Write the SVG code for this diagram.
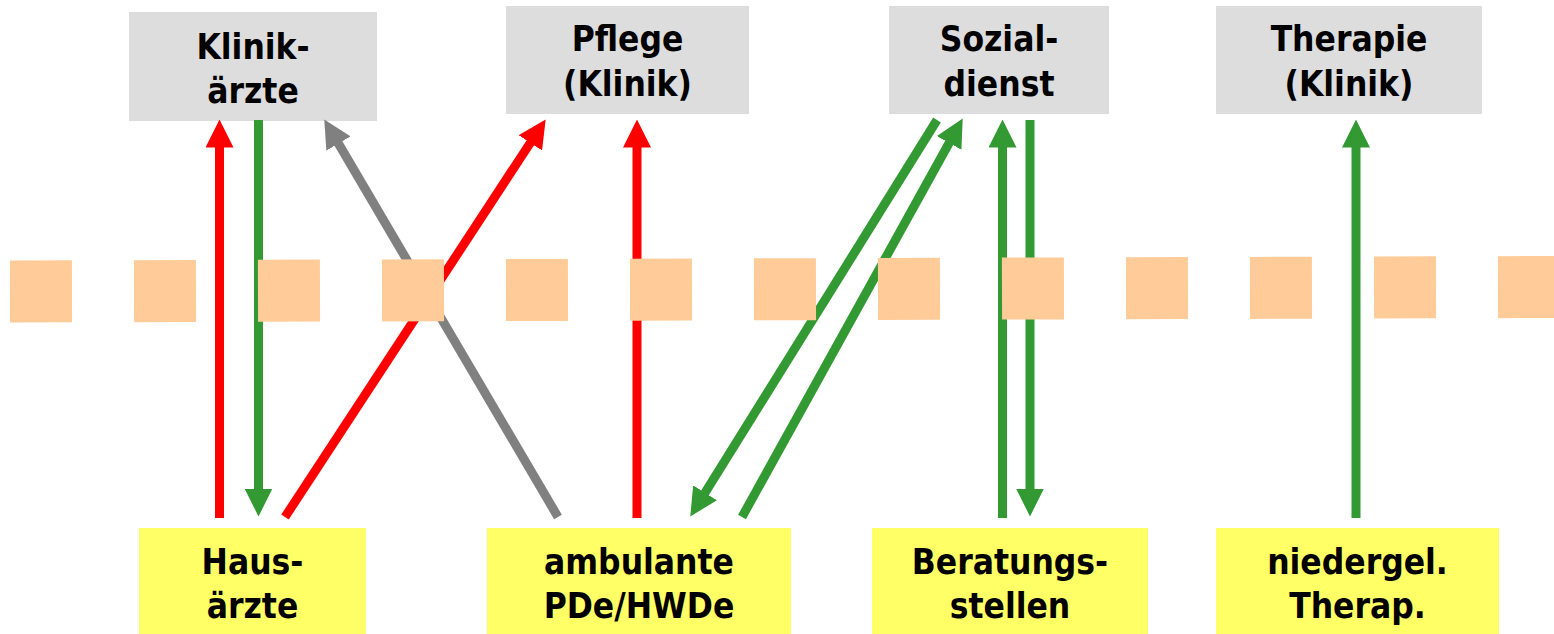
<svg xmlns="http://www.w3.org/2000/svg" width="1554" height="634" viewBox="0 0 1554 634">
<style>
.top{fill:#DDDDDD}
.bot{fill:#FFFF66}
.t{font-family:"DejaVu Sans Condensed","DejaVu Sans",sans-serif;font-stretch:condensed;font-weight:bold;font-size:35px;fill:#000;text-anchor:middle}
.ln{fill:none;stroke-width:9;stroke-linecap:butt}
.red{stroke:#FF0000}
.green{stroke:#339933}
.gray{stroke:#808080}
.band{fill:none;stroke:#FFCC99;stroke-width:62;stroke-dasharray:62 62}
</style>
<defs>
<marker id="aR" markerUnits="userSpaceOnUse" markerWidth="28" markerHeight="28" refX="0.5" refY="14" orient="auto"><path d="M0,0 L28,14 L0,28 z" fill="#FF0000"/></marker>
<marker id="aG" markerUnits="userSpaceOnUse" markerWidth="28" markerHeight="28" refX="0.5" refY="14" orient="auto"><path d="M0,0 L28,14 L0,28 z" fill="#339933"/></marker>
<marker id="aY" markerUnits="userSpaceOnUse" markerWidth="28" markerHeight="28" refX="0.5" refY="14" orient="auto"><path d="M0,0 L28,14 L0,28 z" fill="#808080"/></marker>
</defs>
<rect width="1554" height="634" fill="#FFFFFF"/>
<g id="klinikaerzte"><rect class="top" x="129" y="12" width="248" height="109"/><text class="t" x="253" y="59">Klinik-</text><text class="t" x="253" y="103">ärzte</text></g>
<g id="pflege"><rect class="top" x="506" y="6" width="243" height="108"/><text class="t" x="627.5" y="51">Pflege</text><text class="t" x="627.5" y="96">(Klinik)</text></g>
<g id="sozialdienst"><rect class="top" x="889" y="6" width="220" height="108"/><text class="t" x="999" y="51">Sozial-</text><text class="t" x="999" y="96">dienst</text></g>
<g id="therapie"><rect class="top" x="1216" y="6" width="266" height="108"/><text class="t" x="1349" y="51">Therapie</text><text class="t" x="1349" y="96">(Klinik)</text></g>
<g id="hausaerzte"><rect class="bot" x="139" y="528" width="227" height="106"/><text class="t" x="252.5" y="574">Haus-</text><text class="t" x="252.5" y="618">ärzte</text></g>
<g id="ambulante"><rect class="bot" x="487" y="528" width="304" height="106"/><text class="t" x="639" y="574">ambulante</text><text class="t" x="639" y="618">PDe/HWDe</text></g>
<g id="beratung"><rect class="bot" x="872" y="528" width="276" height="106"/><text class="t" x="1010" y="574">Beratungs-</text><text class="t" x="1010" y="618">stellen</text></g>
<g id="niedergel"><rect class="bot" x="1216" y="528" width="283" height="106"/><text class="t" x="1357.5" y="574">niedergel.</text><text class="t" x="1357.5" y="618">Therap.</text></g>
<g id="connectors">
<path class="ln red" d="M219.5,518 L219.5,147" marker-end="url(#aR)"/>
<path class="ln green" d="M258.5,120 L258.5,489" marker-end="url(#aG)"/>
<path class="ln gray" d="M558,517 L338.2,143.1" marker-end="url(#aY)"/>
<path class="ln red" d="M285,517 L530.6,142.4" marker-end="url(#aR)"/>
<path class="ln red" d="M637,518 L637,147" marker-end="url(#aR)"/>
<path class="ln green" d="M937,120 L704.8,493.2" marker-end="url(#aG)"/>
<path class="ln green" d="M742,517 L949.4,142.5" marker-end="url(#aG)"/>
<path class="ln green" d="M1002.5,518 L1002.5,147" marker-end="url(#aG)"/>
<path class="ln green" d="M1030,120 L1030,489" marker-end="url(#aG)"/>
<path class="ln green" d="M1356,518 L1356,147" marker-end="url(#aG)"/>
</g>
<g id="divider"><path class="band" d="M10,291.5 L1560,287"/></g>
</svg>
